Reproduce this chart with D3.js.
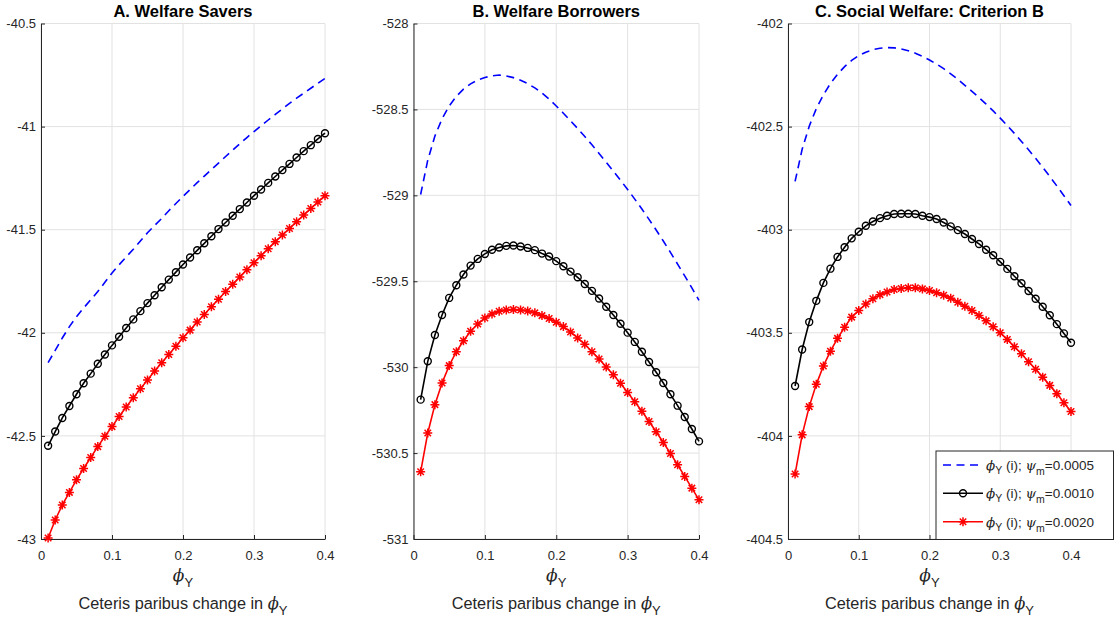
<!DOCTYPE html>
<html>
<head>
<meta charset="utf-8">
<script src="https://cdn.jsdelivr.net/npm/d3@7"></script>
<style>
  html, body { margin: 0; padding: 0; background: #fff; }
  svg { display: block; font-family: "Liberation Sans", Arial, Helvetica, sans-serif; }
</style>
</head>
<body>
<svg id="chart" width="1119" height="620"></svg>
<script>
// ---------------- DATA ----------------
const phiY = [0.01,0.02,0.03,0.04,0.05,0.06,0.07,0.08,0.09,0.10,
              0.11,0.12,0.13,0.14,0.15,0.16,0.17,0.18,0.19,0.20,
              0.21,0.22,0.23,0.24,0.25,0.26,0.27,0.28,0.29,0.30,
              0.31,0.32,0.33,0.34,0.35,0.36,0.37,0.38,0.39,0.40];

const seriesLabels = ["0.0005", "0.0010", "0.0020"];

// Panel A: Welfare Savers
const saversPsi0005 = [-42.145,-42.085,-42.025,-41.970,-41.922,-41.880,-41.840,-41.800,-41.755,-41.710,
                       -41.670,-41.632,-41.595,-41.555,-41.515,-41.480,-41.445,-41.408,-41.373,-41.339,
                       -41.305,-41.272,-41.240,-41.208,-41.177,-41.145,-41.114,-41.083,-41.053,-41.024,
                       -40.996,-40.968,-40.941,-40.914,-40.887,-40.862,-40.838,-40.814,-40.790,-40.766];
const saversPsi0010 = [-42.548,-42.479,-42.413,-42.355,-42.298,-42.245,-42.198,-42.150,-42.105,-42.061,
                       -42.019,-41.977,-41.935,-41.895,-41.856,-41.818,-41.779,-41.742,-41.706,-41.669,
                       -41.635,-41.600,-41.566,-41.532,-41.497,-41.465,-41.432,-41.400,-41.368,-41.335,
                       -41.305,-41.273,-41.242,-41.211,-41.181,-41.150,-41.119,-41.090,-41.060,-41.032];
const saversPsi0020 = [-42.995,-42.908,-42.835,-42.774,-42.713,-42.658,-42.605,-42.552,-42.502,-42.455,
                       -42.406,-42.360,-42.315,-42.271,-42.229,-42.185,-42.145,-42.105,-42.065,-42.024,
                       -41.987,-41.948,-41.911,-41.874,-41.837,-41.800,-41.765,-41.729,-41.694,-41.660,
                       -41.626,-41.592,-41.558,-41.526,-41.494,-41.461,-41.429,-41.397,-41.366,-41.335];

// Panel B: Welfare Borrowers
const borrowersPsi0005 = [-528.995,-528.795,-528.655,-528.555,-528.480,-528.424,-528.382,-528.351,-528.329,-528.314,
                          -528.305,-528.300,-528.305,-528.315,-528.330,-528.350,-528.375,-528.405,-528.440,-528.480,
                          -528.522,-528.566,-528.611,-528.658,-528.706,-528.756,-528.807,-528.859,-528.912,-528.966,
                          -529.022,-529.080,-529.140,-529.202,-529.266,-529.332,-529.400,-529.469,-529.539,-529.611];
const borrowersPsi0010 = [-530.189,-529.966,-529.813,-529.696,-529.597,-529.523,-529.461,-529.409,-529.370,-529.341,
                          -529.317,-529.304,-529.294,-529.292,-529.298,-529.306,-529.319,-529.339,-529.356,-529.383,
                          -529.413,-529.444,-529.477,-529.516,-529.556,-529.600,-529.648,-529.696,-529.747,-529.799,
                          -529.853,-529.910,-529.970,-530.030,-530.092,-530.158,-530.224,-530.290,-530.360,-530.432];
const borrowersPsi0020 = [-530.609,-530.383,-530.218,-530.092,-529.991,-529.910,-529.846,-529.791,-529.749,-529.714,
                          -529.690,-529.675,-529.667,-529.665,-529.667,-529.673,-529.684,-529.700,-529.717,-529.739,
                          -529.764,-529.795,-529.830,-529.867,-529.910,-529.952,-529.999,-530.044,-530.094,-530.147,
                          -530.201,-530.257,-530.316,-530.376,-530.438,-530.502,-530.568,-530.636,-530.704,-530.772];

// Panel C: Social Welfare, Criterion B
const socialPsi0005 = [-402.766,-402.610,-402.498,-402.413,-402.346,-402.291,-402.246,-402.209,-402.179,-402.156,
                       -402.139,-402.127,-402.120,-402.117,-402.118,-402.123,-402.132,-402.144,-402.159,-402.177,
                       -402.197,-402.219,-402.244,-402.271,-402.300,-402.329,-402.359,-402.391,-402.424,-402.459,
                       -402.495,-402.533,-402.572,-402.612,-402.654,-402.697,-402.742,-402.788,-402.835,-402.883];
const socialPsi0010 = [-403.758,-403.581,-403.448,-403.345,-403.258,-403.189,-403.132,-403.085,-403.042,-403.010,
                       -402.981,-402.960,-402.944,-402.932,-402.924,-402.923,-402.923,-402.924,-402.932,-402.939,
                       -402.948,-402.965,-402.984,-403.002,-403.021,-403.045,-403.069,-403.097,-403.124,-403.156,
                       -403.190,-403.226,-403.260,-403.297,-403.335,-403.374,-403.415,-403.458,-403.503,-403.548];
const socialPsi0020 = [-404.185,-403.995,-403.858,-403.750,-403.661,-403.589,-403.527,-403.473,-403.424,-403.392,
                       -403.360,-403.335,-403.315,-403.302,-403.290,-403.285,-403.282,-403.282,-403.287,-403.295,
                       -403.306,-403.318,-403.332,-403.352,-403.371,-403.392,-403.416,-403.442,-403.471,-403.500,
                       -403.532,-403.568,-403.602,-403.640,-403.677,-403.715,-403.755,-403.795,-403.839,-403.882];

const xTicks = [0, 0.1, 0.2, 0.3, 0.4];
const xTickLabels = ["0", "0.1", "0.2", "0.3", "0.4"];
const yTicksA = [-43, -42.5, -42, -41.5, -41, -40.5];
const yTickLabelsA = ["-43", "-42.5", "-42", "-41.5", "-41", "-40.5"];
const yTicksB = [-531, -530.5, -530, -529.5, -529, -528.5, -528];
const yTickLabelsB = ["-531", "-530.5", "-530", "-529.5", "-529", "-528.5", "-528"];
const yTicksC = [-404.5, -404, -403.5, -403, -402.5, -402];
const yTickLabelsC = ["-404.5", "-404", "-403.5", "-403", "-402.5", "-402"];

const titles = ["A. Welfare Savers", "B. Welfare Borrowers", "C. Social Welfare: Criterion B"];

// ---------------- LAYOUT ----------------
const svg = d3.select("#chart");
const TEXT = "#262626";
const GRID = "#e2e2e2";
const plotTop = 23.5, plotBottom = 539;

const panels = [
  { left: 41,    right: 325,  title: titles[0], yTicks: yTicksA, yLabels: yTickLabelsA,
    series: [saversPsi0005, saversPsi0010, saversPsi0020] },
  { left: 413.5, right: 699,  title: titles[1], yTicks: yTicksB, yLabels: yTickLabelsB,
    series: [borrowersPsi0005, borrowersPsi0010, borrowersPsi0020] },
  { left: 788,   right: 1071, title: titles[2], yTicks: yTicksC, yLabels: yTickLabelsC,
    series: [socialPsi0005, socialPsi0010, socialPsi0020] }
];

const styles = [
  { color: "#0000ff", dash: "8,5.5", marker: null },
  { color: "#000000", dash: null, marker: "circle" },
  { color: "#ff0000", dash: null, marker: "star" }
];

function starPath(r) {
  const d = r * 0.72;
  return `M0,${-r}V${r}M${-r},0H${r}M${-d},${-d}L${d},${d}M${-d},${d}L${d},${-d}`;
}

function addPhiY(sel, subSize, subDy) {
  sel.append("tspan").attr("font-style", "italic").attr("font-family", "DejaVu Serif, serif").text("ϕ");
  sel.append("tspan").attr("font-size", subSize).attr("dy", subDy).text("Y");
}

panels.forEach(p => {
  const yExt = d3.extent(p.yTicks);
  const x = d3.scaleLinear().domain([0, 0.4]).range([p.left, p.right]);
  const y = d3.scaleLinear().domain(yExt).range([plotBottom, plotTop]);
  const g = svg.append("g");

  // grid
  g.append("g").selectAll("line").data(xTicks).join("line")
    .attr("x1", d => x(d)).attr("x2", d => x(d)).attr("y1", plotTop).attr("y2", plotBottom)
    .attr("stroke", GRID).attr("stroke-width", 1);
  g.append("g").selectAll("line").data(p.yTicks).join("line")
    .attr("x1", p.left).attr("x2", p.right).attr("y1", d => y(d)).attr("y2", d => y(d))
    .attr("stroke", GRID).attr("stroke-width", 1);

  // axes (ticks inward)
  const xAxis = d3.axisBottom(x).tickValues(xTicks).tickSizeInner(-4).tickSizeOuter(0)
    .tickPadding(12).tickFormat((d, i) => xTickLabels[i]);
  const gx = g.append("g").attr("transform", `translate(0,${plotBottom})`).call(xAxis);
  const yAxis = d3.axisLeft(y).tickValues(p.yTicks).tickSizeInner(-4).tickSizeOuter(0)
    .tickPadding(10).tickFormat((d, i) => p.yLabels[i]);
  const gy = g.append("g").attr("transform", `translate(${p.left},0)`).call(yAxis);
  [gx, gy].forEach(a => {
    a.select(".domain").attr("stroke", TEXT).attr("stroke-width", 1);
    a.selectAll(".tick line").attr("stroke", TEXT);
    a.selectAll(".tick text").attr("fill", TEXT).attr("font-size", 13)
      .attr("font-family", "Liberation Sans, Arial, sans-serif");
  });
  gy.selectAll(".tick text").attr("x", -5);
  gx.selectAll(".tick text").attr("dy", "0.72em");

  // title
  const cx = (p.left + p.right) / 2;
  g.append("text").attr("x", cx).attr("y", 17).attr("text-anchor", "middle")
    .attr("font-size", 16.5).attr("font-weight", "bold").attr("fill", "#000").text(p.title);

  // x labels
  const xl = g.append("text").attr("x", cx).attr("y", 581).attr("text-anchor", "middle")
    .attr("font-size", 17).attr("fill", TEXT);
  addPhiY(xl, 13, 6);
  const xl2 = g.append("text").attr("x", cx).attr("y", 609).attr("text-anchor", "middle")
    .attr("font-size", 16.3).attr("fill", TEXT);
  xl2.append("tspan").text("Ceteris paribus change in ");
  addPhiY(xl2, 13, 6);

  // series
  const line = d3.line().x((d, i) => x(phiY[i])).y(d => y(d));
  p.series.forEach((vals, si) => {
    const st = styles[si];
    g.append("path").datum(vals).attr("d", line).attr("fill", "none")
      .attr("stroke", st.color).attr("stroke-width", 1.6)
      .attr("stroke-dasharray", st.dash);
    if (st.marker === "circle") {
      g.append("g").selectAll("circle").data(vals).join("circle")
        .attr("cx", (d, i) => x(phiY[i])).attr("cy", d => y(d)).attr("r", 3.5)
        .attr("fill", "none").attr("stroke", st.color).attr("stroke-width", 1.4);
    } else if (st.marker === "star") {
      g.append("g").selectAll("path").data(vals).join("path")
        .attr("transform", (d, i) => `translate(${x(phiY[i])},${y(d)})`)
        .attr("d", starPath(4.5)).attr("fill", "none").attr("stroke", st.color).attr("stroke-width", 1.5);
    }
  });
});

// legend (panel C)
const lg = svg.append("g");
lg.append("rect").attr("x", 936).attr("y", 451).attr("width", 177.5).attr("height", 88.5)
  .attr("fill", "#fff").attr("stroke", TEXT).attr("stroke-width", 1);
const rowsY = [465, 493.3, 521.7];
seriesLabels.forEach((lab, i) => {
  const st = styles[i];
  const yy = rowsY[i];
  lg.append("line").attr("x1", 943).attr("x2", 983).attr("y1", yy).attr("y2", yy)
    .attr("stroke", st.color).attr("stroke-width", 1.6).attr("stroke-dasharray", st.dash);
  if (st.marker === "circle") {
    lg.append("circle").attr("cx", 963).attr("cy", yy).attr("r", 3.5)
      .attr("fill", "none").attr("stroke", st.color).attr("stroke-width", 1.4);
  } else if (st.marker === "star") {
    lg.append("path").attr("transform", `translate(963,${yy})`).attr("d", starPath(4.5))
      .attr("fill", "none").attr("stroke", st.color).attr("stroke-width", 1.5);
  }
  const t = lg.append("text").attr("x", 986).attr("y", yy + 5).attr("font-size", 13.5).attr("fill", TEXT);
  t.append("tspan").attr("font-style", "italic").attr("font-family", "DejaVu Serif, serif").text("ϕ");
  t.append("tspan").attr("font-size", 10.5).attr("dy", 4).text("Y");
  t.append("tspan").attr("dy", -4).text(" (i); ");
  t.append("tspan").attr("font-style", "italic").attr("font-family", "DejaVu Serif, serif").text("ψ");
  t.append("tspan").attr("font-size", 10.5).attr("dy", 5).text("m");
  t.append("tspan").attr("dy", -5).text("=" + lab);
});
</script>
</body>
</html>
